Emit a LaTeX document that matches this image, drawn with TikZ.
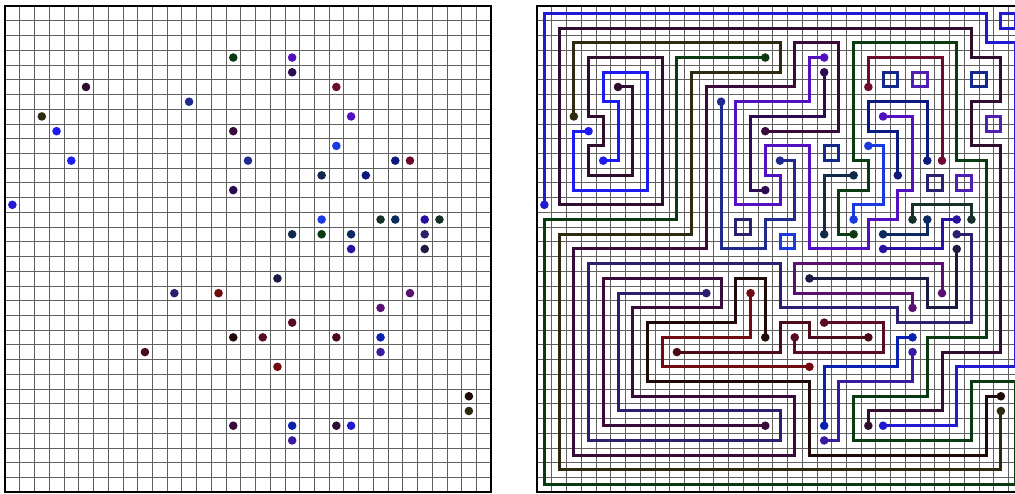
\documentclass[tikz,border=0pt]{standalone}
\usepackage{tikz}
\usetikzlibrary{calc}

\definecolor{netA}{RGB}{48,12,46}
\definecolor{netB}{RGB}{34,26,210}
\definecolor{netBl}{RGB}{28,28,242}
\definecolor{netC}{RGB}{46,42,18}
\definecolor{netE}{RGB}{10,58,18}
\definecolor{netF}{RGB}{108,10,48}
\definecolor{netG}{RGB}{12,26,128}
\definecolor{netH}{RGB}{24,48,42}
\definecolor{netI}{RGB}{10,42,96}
\definecolor{netJ}{RGB}{42,16,160}
\definecolor{netK}{RGB}{26,26,66}
\definecolor{netL}{RGB}{30,42,140}
\definecolor{netM}{RGB}{42,10,80}
\definecolor{netN}{RGB}{84,16,192}
\definecolor{netO}{RGB}{26,58,224}
\definecolor{netP}{RGB}{16,42,74}
\definecolor{netQ}{RGB}{32,10,8}
\definecolor{netR}{RGB}{10,32,176}
\definecolor{netS}{RGB}{58,26,160}
\definecolor{netT}{RGB}{112,10,16}
\definecolor{netU}{RGB}{74,10,24}
\definecolor{netV}{RGB}{90,10,40}
\definecolor{netW}{RGB}{58,10,58}
\definecolor{netX}{RGB}{42,32,112}
\definecolor{netY}{RGB}{90,16,112}
\definecolor{sqnavy}{RGB}{20,40,140}
\definecolor{sqpurp}{RGB}{80,32,180}

\begin{document}
\begin{tikzpicture}[
  gridln/.style={black!62,line width=0.55pt},
  frame/.style={black,line width=1.1pt},
  wire/.style={line width=3pt,line join=miter},
  pin/.style={radius=4.3pt},
  panel/.style={x=14.727pt,y=-14.727pt}
]
\useasboundingbox (0pt,0pt) rectangle (1015pt,-494pt);

% the two grids
\foreach \px in {5pt,537pt} {
  \begin{scope}[shift={(\px,-6pt)},panel]
    \foreach \i in {1,...,32} {
      \draw[gridln] (\i,0) -- (\i,33);
      \draw[gridln] (0,\i) -- (33,\i);
    }
    \draw[frame] (0,0) rectangle (33,33);
  \end{scope}
}

% routed nets
\begin{scope}[shift={(537pt,-6pt)},panel,shift={(0.5,0.5)}]
  \draw[wire,netA] (5,5) -- (6,5) -- (6,11) -- (3,11) -- (3,9) -- (4,9) -- (4,7) -- (3,7) -- (3,3) -- (8,3) -- (8,13) -- (1,13) -- (1,1) -- (29,1) -- (29,3) -- (31,3) -- (31,6) -- (29,6) -- (29,9) -- (31,9) -- (31,23) -- (27,23) -- (27,27) -- (22,27) -- (22,28);
  \draw[wire,netB] (0,13) -- (0,0) -- (30,0) -- (30,2) -- (32,2) -- (32,24) -- (28,24) -- (28,28) -- (23,28);
  \draw[wire,netBl] (3,8) -- (2,8) -- (2,12) -- (7,12) -- (7,4) -- (4,4) -- (4,6) -- (5,6) -- (5,10) -- (4,10);
  \draw[wire,netC] (2,7) -- (2,2) -- (16,2) -- (16,4) -- (10,4) -- (10,15) -- (1,15) -- (1,31) -- (31,31) -- (31,27);
  \draw[wire,netE] (15,3) -- (9,3) -- (9,14) -- (0,14) -- (0,32) -- (32,32) -- (32,25) -- (29,25) -- (29,29) -- (21,29) -- (21,26) -- (26,26) -- (26,22) -- (30,22) -- (30,10) -- (28,10) -- (28,2) -- (21,2) -- (21,10) -- (22,10) -- (22,12) -- (20,12) -- (20,15) -- (21,15);
  \draw[wire,netF] (22,5) -- (22,3) -- (27,3) -- (27,10);
  \draw[wire,netG] (26,10) -- (26,6) -- (22,6) -- (22,8) -- (24,8) -- (24,11);
  \draw[wire,netH] (25,14) -- (25,13) -- (29,13) -- (29,14);
  \draw[wire,netI] (26,14) -- (26,15) -- (23,15);
  \draw[wire,netJ] (28,14) -- (27,14) -- (27,16) -- (23,16);
  \draw[wire,netK] (28,16) -- (28,20) -- (26,20) -- (26,18) -- (18,18);
  \draw[wire,netL] (12,6) -- (12,16) -- (15,16) -- (15,14) -- (17,14) -- (17,10) -- (16,10);
  \draw[wire,netM] (19,4) -- (19,7) -- (14,7) -- (14,12) -- (15,12);
  \draw[wire,netN] (19,3) -- (18,3) -- (18,6) -- (13,6) -- (13,13) -- (16,13) -- (16,11) -- (15,11) -- (15,9) -- (18,9) -- (18,16) -- (22,16) -- (22,14) -- (24,14) -- (24,12) -- (25,12) -- (25,7) -- (23,7);
  \draw[wire,netO] (22,9) -- (23,9) -- (23,13) -- (21,13) -- (21,14);
  \draw[wire,netP] (21,11) -- (19,11) -- (19,15);
  \draw[wire,netQ] (15,22) -- (15,18) -- (13,18) -- (13,21) -- (7,21) -- (7,25) -- (18,25) -- (18,30) -- (30,30) -- (30,26) -- (31,26);
  \draw[wire,netR] (25,22) -- (24,22) -- (24,24) -- (19,24) -- (19,28);
  \draw[wire,netS] (25,23) -- (25,25) -- (20,25) -- (20,29) -- (19,29);
  \draw[wire,netT] (14,19) -- (14,22) -- (8,22) -- (8,24) -- (18,24);
  \draw[wire,netU] (9,23) -- (16,23) -- (16,21) -- (18,21) -- (18,22) -- (22,22);
  \draw[wire,netV] (17,22) -- (17,23) -- (23,23) -- (23,21) -- (19,21);
  \draw[wire,netW] (15,8) -- (20,8) -- (20,2) -- (17,2) -- (17,5) -- (11,5) -- (11,16) -- (2,16) -- (2,30) -- (17,30) -- (17,26) -- (6,26) -- (6,20) -- (12,20) -- (12,18) -- (4,18) -- (4,28) -- (15,28);
  \draw[wire,netX] (11,19) -- (5,19) -- (5,27) -- (16,27) -- (16,29) -- (3,29) -- (3,17) -- (16,17) -- (16,20) -- (24,20) -- (24,21) -- (29,21) -- (29,15) -- (28,15);
  \draw[wire,netY] (27,19) -- (27,17) -- (17,17) -- (17,19) -- (25,19) -- (25,20);
  % small closed loops
  \foreach \c/\r/\col in {31/0/netB, 19/9/sqnavy, 23/4/sqnavy, 25/4/sqpurp, 29/4/sqnavy,
      30/7/sqpurp, 26/11/netX, 28/11/sqpurp, 13/14/netX, 16/15/netO}
    \draw[wire,\col] (\c,\r) rectangle ++(1,1);
\end{scope}

% pins, same places on both panels
\foreach \px in {5pt,537pt} {
  \begin{scope}[shift={(\px,-6pt)},panel,shift={(0.5,0.5)}]
    \foreach \c/\r/\col in {5/5/netA, 22/28/netA, 0/13/netB, 23/28/netB, 3/8/netBl, 4/10/netBl,
        2/7/netC, 31/27/netC, 15/3/netE, 21/15/netE, 22/5/netF, 27/10/netF,
        26/10/netG, 24/11/netG, 25/14/netH, 29/14/netH, 26/14/netI, 23/15/netI,
        28/14/netJ, 23/16/netJ, 28/16/netK, 18/18/netK, 12/6/netL, 16/10/netL,
        19/4/netM, 15/12/netM, 19/3/netN, 23/7/netN, 22/9/netO, 21/14/netO,
        21/11/netP, 19/15/netP, 15/22/netQ, 31/26/netQ, 25/22/netR, 19/28/netR,
        25/23/netS, 19/29/netS, 14/19/netT, 18/24/netT, 9/23/netU, 22/22/netU,
        17/22/netV, 19/21/netV, 15/8/netW, 15/28/netW, 11/19/netX, 28/15/netX,
        27/19/netY, 25/20/netY}
      \fill[\col,pin] (\c,\r) circle;
  \end{scope}
}
\end{tikzpicture}
\end{document}
